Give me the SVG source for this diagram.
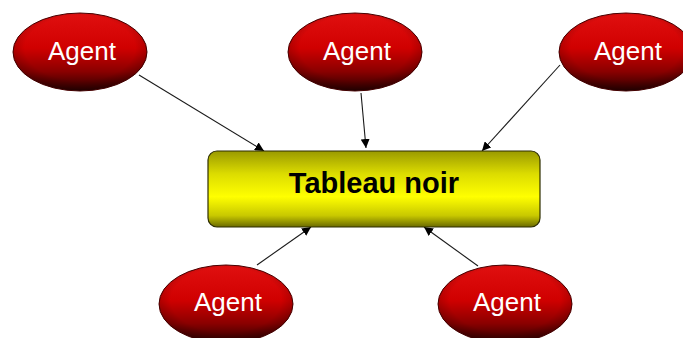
<svg xmlns="http://www.w3.org/2000/svg" width="683" height="338" viewBox="0 0 683 338">
  <defs>
    <linearGradient id="agentFill" x1="0" y1="0" x2="0" y2="1">
      <stop offset="0" stop-color="#e01010"/>
      <stop offset="0.45" stop-color="#d00000"/>
      <stop offset="0.75" stop-color="#8a0000"/>
      <stop offset="1" stop-color="#2a0000"/>
    </linearGradient>
    <radialGradient id="agentEdge" cx="0.5" cy="0.45" r="0.55">
      <stop offset="0.75" stop-color="#000" stop-opacity="0"/>
      <stop offset="1" stop-color="#000" stop-opacity="0.25"/>
    </radialGradient>
    <linearGradient id="boardFill" x1="0" y1="0" x2="0" y2="1">
      <stop offset="0" stop-color="#9a9a00"/>
      <stop offset="0.3" stop-color="#dcdc00"/>
      <stop offset="0.6" stop-color="#ffff00"/>
      <stop offset="0.85" stop-color="#c8c800"/>
      <stop offset="1" stop-color="#6a6a00"/>
    </linearGradient>
    <marker id="arrow" viewBox="0 0 10 10" refX="10" refY="5" markerWidth="9" markerHeight="9" markerUnits="userSpaceOnUse" orient="auto">
      <path d="M0,0 L10,5 L0,10 Z" fill="#000"/>
    </marker>
    <style>
      .agent ellipse.body { fill: url(#agentFill); stroke: #4a0000; stroke-width: 1; }
      .agent ellipse.shade { fill: url(#agentEdge); }
      .agent text { font-family: "Liberation Sans", Arial, sans-serif; font-size: 26px; fill: #ffffff; text-anchor: middle; }
      .board rect { fill: url(#boardFill); stroke: #2e2e00; stroke-width: 1.2; }
      .board text { font-family: "Liberation Sans", Arial, sans-serif; font-size: 29px; font-weight: bold; fill: #000; text-anchor: middle; }
      .links line { stroke: #1a1a1a; stroke-width: 1.1; marker-end: url(#arrow); }
    </style>
  </defs>

  <rect width="683" height="338" fill="#ffffff"/>

  <!-- connectors: each agent writes to the blackboard -->
  <g id="connectors" class="links">
    <line x1="139" y1="75" x2="264" y2="151"/>
    <line x1="361" y1="93" x2="366" y2="148"/>
    <line x1="560" y1="65" x2="482" y2="151"/>
    <line x1="257" y1="265" x2="311" y2="227"/>
    <line x1="478" y1="266" x2="424" y2="227"/>
  </g>

  <g id="tableau" class="board">
    <rect x="208" y="151" width="332" height="76" rx="9" ry="9"/>
    <text x="374" y="193">Tableau noir</text>
  </g>

  <g id="agent-top-left" class="agent">
    <ellipse class="body" cx="80" cy="52" rx="67" ry="39"/>
    <ellipse class="shade" cx="80" cy="52" rx="67" ry="39"/>
    <text x="82" y="60">Agent</text>
  </g>
  <g id="agent-top-center" class="agent">
    <ellipse class="body" cx="355" cy="52" rx="67" ry="39"/>
    <ellipse class="shade" cx="355" cy="52" rx="67" ry="39"/>
    <text x="357" y="60">Agent</text>
  </g>
  <g id="agent-top-right" class="agent">
    <ellipse class="body" cx="626" cy="52" rx="67" ry="39"/>
    <ellipse class="shade" cx="626" cy="52" rx="67" ry="39"/>
    <text x="628" y="60">Agent</text>
  </g>
  <g id="agent-bottom-left" class="agent">
    <ellipse class="body" cx="226" cy="304" rx="67" ry="39"/>
    <ellipse class="shade" cx="226" cy="304" rx="67" ry="39"/>
    <text x="228" y="311">Agent</text>
  </g>
  <g id="agent-bottom-right" class="agent">
    <ellipse class="body" cx="505" cy="304" rx="67" ry="39"/>
    <ellipse class="shade" cx="505" cy="304" rx="67" ry="39"/>
    <text x="507" y="311">Agent</text>
  </g>
</svg>
